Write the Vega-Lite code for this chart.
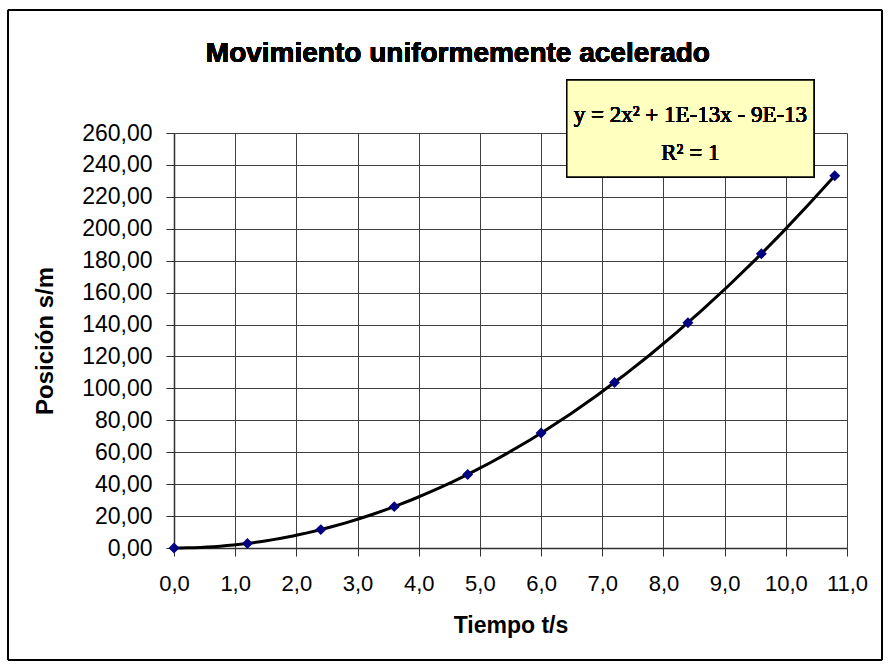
{
  "$schema": "https://vega.github.io/schema/vega-lite/v6.json",
  "width": 673,
  "height": 415,
  "autosize": {"type": "none"},
  "padding": {"left": 174, "top": 133, "right": 43, "bottom": 120},
  "background": "white",
  "config": {
    "view": {"stroke": null},
    "axis": {
      "labelFont": "Liberation Sans",
      "titleFont": "Liberation Sans",
      "labelColor": "black",
      "titleColor": "black",
      "domainColor": "#303030",
      "tickColor": "#303030",
      "gridColor": "#404040",
      "gridOpacity": 1,
      "gridWidth": 1,
      "domainWidth": 1.5,
      "tickSize": 8,
      "grid": true,
      "labelFlush": false,
      "labelOverlap": false
    }
  },
  "data": {
    "values": [
      {"t": 0.0, "s": 0.0},
      {"t": 1.2, "s": 2.88},
      {"t": 2.4, "s": 11.52},
      {"t": 3.6, "s": 25.92},
      {"t": 4.8, "s": 46.08},
      {"t": 6.0, "s": 72.0},
      {"t": 7.2, "s": 103.68},
      {"t": 8.4, "s": 141.12},
      {"t": 9.6, "s": 184.32},
      {"t": 10.8, "s": 233.28}
    ]
  },
  "layer": [
    {
      "transform": [
        {"regression": "s", "on": "t", "method": "poly", "order": 2, "extent": [0, 10.8]}
      ],
      "mark": {"type": "line", "color": "black", "strokeWidth": 3},
      "encoding": {
        "x": {"field": "t", "type": "quantitative", "scale": {"domain": [0, 11], "nice": false, "zero": false},
          "axis": {"grid": true, "labelFlush": false, "labelOverlap": false, "values": [0,1,2,3,4,5,6,7,8,9,10,11], "labelExpr": "replace(format(datum.value, '.1f'), '.', ',')", "labelFontSize": 22, "labelPadding": 17, "title": "Tiempo t/s", "titleFontSize": 23, "titleFontWeight": "bold", "titlePadding": 20}
        },
        "y": {"field": "s", "type": "quantitative", "scale": {"domain": [0, 260], "nice": false, "zero": false},
          "axis": {"grid": true, "labelFlush": false, "labelOverlap": false, "values": [0,20,40,60,80,100,120,140,160,180,200,220,240,260], "labelExpr": "replace(format(datum.value, '.2f'), '.', ',')", "labelFontSize": 23, "labelPadding": 14, "title": "Posición s/m", "titleFontSize": 24, "titleFontWeight": "bold", "titlePadding": 24}
        }
      }
    },
    {
      "mark": {"type": "point", "shape": "diamond", "filled": true, "color": "#000080", "size": 120, "opacity": 1},
      "encoding": {
        "x": {"field": "t", "type": "quantitative", "scale": {"domain": [0, 11], "nice": false, "zero": false},
          "axis": {"grid": true, "labelFlush": false, "labelOverlap": false, "values": [0,1,2,3,4,5,6,7,8,9,10,11], "labelExpr": "replace(format(datum.value, '.1f'), '.', ',')", "labelFontSize": 22, "labelPadding": 17, "title": "Tiempo t/s", "titleFontSize": 23, "titleFontWeight": "bold", "titlePadding": 20}
        },
        "y": {"field": "s", "type": "quantitative", "scale": {"domain": [0, 260], "nice": false, "zero": false},
          "axis": {"grid": true, "labelFlush": false, "labelOverlap": false, "values": [0,20,40,60,80,100,120,140,160,180,200,220,240,260], "labelExpr": "replace(format(datum.value, '.2f'), '.', ',')", "labelFontSize": 23, "labelPadding": 14, "title": "Posición s/m", "titleFontSize": 24, "titleFontWeight": "bold", "titlePadding": 24}
        }
      }
    },
    {
      "mark": {"type": "rect", "fill": null, "stroke": "black", "strokeWidth": 1},
      "encoding": {
        "x": {"datum": -2.71, "type": "quantitative", "scale": {"domain": [0, 11], "nice": false, "zero": false},
          "axis": {"grid": true, "labelFlush": false, "labelOverlap": false, "values": [0,1,2,3,4,5,6,7,8,9,10,11], "labelExpr": "replace(format(datum.value, '.1f'), '.', ',')", "labelFontSize": 22, "labelPadding": 17, "title": "Tiempo t/s", "titleFontSize": 23, "titleFontWeight": "bold", "titlePadding": 20}
        },
        "x2": {"datum": 11.57},
        "y": {"datum": -70.2, "type": "quantitative", "scale": {"domain": [0, 260], "nice": false, "zero": false},
          "axis": {"grid": true, "labelFlush": false, "labelOverlap": false, "values": [0,20,40,60,80,100,120,140,160,180,200,220,240,260], "labelExpr": "replace(format(datum.value, '.2f'), '.', ',')", "labelFontSize": 23, "labelPadding": 14, "title": "Posición s/m", "titleFontSize": 24, "titleFontWeight": "bold", "titlePadding": 24}
        },
        "y2": {"datum": 337.1}
      }
    },
    {
      "mark": {"type": "text", "font": "Liberation Sans", "fontSize": 28, "fontWeight": "bold", "color": "black", "align": "center", "baseline": "alphabetic"},
      "encoding": {
        "x": {"datum": 4.64, "type": "quantitative", "scale": {"domain": [0, 11], "nice": false, "zero": false},
          "axis": {"grid": true, "labelFlush": false, "labelOverlap": false, "values": [0,1,2,3,4,5,6,7,8,9,10,11], "labelExpr": "replace(format(datum.value, '.1f'), '.', ',')", "labelFontSize": 22, "labelPadding": 17, "title": "Tiempo t/s", "titleFontSize": 23, "titleFontWeight": "bold", "titlePadding": 20}
        },
        "y": {"datum": 304.5, "type": "quantitative", "scale": {"domain": [0, 260], "nice": false, "zero": false},
          "axis": {"grid": true, "labelFlush": false, "labelOverlap": false, "values": [0,20,40,60,80,100,120,140,160,180,200,220,240,260], "labelExpr": "replace(format(datum.value, '.2f'), '.', ',')", "labelFontSize": 23, "labelPadding": 14, "title": "Posición s/m", "titleFontSize": 24, "titleFontWeight": "bold", "titlePadding": 24}
        },
        "text": {"value": "Movimiento uniformemente acelerado"}
      }
    },
    {
      "mark": {"type": "rect", "fill": "#FFFFC0", "stroke": "black", "strokeWidth": 1.5},
      "encoding": {
        "x": {"datum": 6.42, "type": "quantitative", "scale": {"domain": [0, 11], "nice": false, "zero": false},
          "axis": {"grid": true, "labelFlush": false, "labelOverlap": false, "values": [0,1,2,3,4,5,6,7,8,9,10,11], "labelExpr": "replace(format(datum.value, '.1f'), '.', ',')", "labelFontSize": 22, "labelPadding": 17, "title": "Tiempo t/s", "titleFontSize": 23, "titleFontWeight": "bold", "titlePadding": 20}
        },
        "x2": {"datum": 10.46},
        "y": {"datum": 232.4, "type": "quantitative", "scale": {"domain": [0, 260], "nice": false, "zero": false},
          "axis": {"grid": true, "labelFlush": false, "labelOverlap": false, "values": [0,20,40,60,80,100,120,140,160,180,200,220,240,260], "labelExpr": "replace(format(datum.value, '.2f'), '.', ',')", "labelFontSize": 23, "labelPadding": 14, "title": "Posición s/m", "titleFontSize": 24, "titleFontWeight": "bold", "titlePadding": 24}
        },
        "y2": {"datum": 293.2}
      }
    },
    {
      "mark": {"type": "text", "font": "Liberation Serif", "fontSize": 23, "fontWeight": "normal", "color": "black", "align": "center", "baseline": "alphabetic"},
      "encoding": {
        "x": {"datum": 8.44, "type": "quantitative", "scale": {"domain": [0, 11], "nice": false, "zero": false},
          "axis": {"grid": true, "labelFlush": false, "labelOverlap": false, "values": [0,1,2,3,4,5,6,7,8,9,10,11], "labelExpr": "replace(format(datum.value, '.1f'), '.', ',')", "labelFontSize": 22, "labelPadding": 17, "title": "Tiempo t/s", "titleFontSize": 23, "titleFontWeight": "bold", "titlePadding": 20}
        },
        "y": {"datum": 267.2, "type": "quantitative", "scale": {"domain": [0, 260], "nice": false, "zero": false},
          "axis": {"grid": true, "labelFlush": false, "labelOverlap": false, "values": [0,20,40,60,80,100,120,140,160,180,200,220,240,260], "labelExpr": "replace(format(datum.value, '.2f'), '.', ',')", "labelFontSize": 23, "labelPadding": 14, "title": "Posición s/m", "titleFontSize": 24, "titleFontWeight": "bold", "titlePadding": 24}
        },
        "text": {"value": "y = 2x² + 1E-13x - 9E-13"}
      }
    },
    {
      "mark": {"type": "text", "font": "Liberation Serif", "fontSize": 23, "fontWeight": "normal", "color": "black", "align": "center", "baseline": "alphabetic"},
      "encoding": {
        "x": {"datum": 8.44, "type": "quantitative", "scale": {"domain": [0, 11], "nice": false, "zero": false},
          "axis": {"grid": true, "labelFlush": false, "labelOverlap": false, "values": [0,1,2,3,4,5,6,7,8,9,10,11], "labelExpr": "replace(format(datum.value, '.1f'), '.', ',')", "labelFontSize": 22, "labelPadding": 17, "title": "Tiempo t/s", "titleFontSize": 23, "titleFontWeight": "bold", "titlePadding": 20}
        },
        "y": {"datum": 242.8, "type": "quantitative", "scale": {"domain": [0, 260], "nice": false, "zero": false},
          "axis": {"grid": true, "labelFlush": false, "labelOverlap": false, "values": [0,20,40,60,80,100,120,140,160,180,200,220,240,260], "labelExpr": "replace(format(datum.value, '.2f'), '.', ',')", "labelFontSize": 23, "labelPadding": 14, "title": "Posición s/m", "titleFontSize": 24, "titleFontWeight": "bold", "titlePadding": 24}
        },
        "text": {"value": "R² = 1"}
      }
    }
  ]
}
